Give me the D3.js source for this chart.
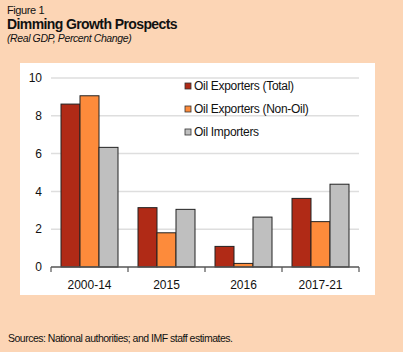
<!DOCTYPE html>
<html>
<head>
<meta charset="utf-8">
<script src="https://cdn.jsdelivr.net/npm/d3@7"></script>
<style>
  body { margin: 0; background: #fcd5b5; }
  svg { display: block; font-family: 'Liberation Sans', Arial, sans-serif; }
</style>
</head>
<body>
<svg width="403" height="352"></svg>
<script>
const categories = ['2000-14', '2015', '2016', '2017-21']
const seriesNames = ['Oil Exporters (Total)', 'Oil Exporters (Non-Oil)', 'Oil Importers']
const exportersTotal = [8.62, 3.14, 1.09, 3.63]
const exportersNonOil = [9.06, 1.81, 0.19, 2.40]
const importers = [6.33, 3.05, 2.64, 4.38]
const yTicks = [0, 2, 4, 6, 8, 10]
const colors = ['#b02a16', '#fd8b3b', '#bfbfbf']

const seriesValues = [exportersTotal, exportersNonOil, importers]
const rows = categories.map((c, i) => ({
  cat: c,
  values: seriesValues.map((s, k) => ({key: seriesNames[k], value: s[i]})),
}))

const svg = d3.select('svg')

svg.append('rect')
  .attr('width', 403).attr('height', 352)
  .attr('fill', '#fcd5b5')

// white panel
svg.append('rect')
  .attr('x', 20).attr('y', 63)
  .attr('width', 355).attr('height', 232)
  .attr('fill', '#fff')

// titles
svg.append('text').attr('x', 7).attr('y', 14)
  .attr('font-size', 11).attr('fill', '#111')
  .style('letter-spacing', '-0.4px')
  .text('Figure 1')
svg.append('text').attr('x', 7).attr('y', 29)
  .attr('font-size', 14).attr('font-weight', 'bold').attr('fill', '#111')
  .style('letter-spacing', '-0.6px')
  .text('Dimming Growth Prospects')
svg.append('text').attr('x', 7).attr('y', 42)
  .attr('font-size', 10.5).attr('font-style', 'italic').attr('fill', '#111')
  .style('letter-spacing', '-0.4px')
  .text('(Real GDP, Percent Change)')

svg.append('text').attr('x', 8).attr('y', 342)
  .attr('font-size', 10.5).attr('fill', '#111')
  .style('letter-spacing', '-0.5px')
  .text('Sources: National authorities; and IMF staff estimates.')

const margins = {left: 51, right: 44, top: 78, bottom: 85}
const width = 403 - margins.left - margins.right
const height = 352 - margins.top - margins.bottom

const g = svg.append('g')
  .attr('transform', `translate(${margins.left}, ${margins.top})`)

const x0 = d3.scaleBand().domain(categories).range([0, width]).paddingInner(0).paddingOuter(0)
const x1 = d3.scaleBand().domain(seriesNames).range([10, x0.bandwidth() - 10])
const y = d3.scaleLinear().domain([0, 10]).range([height, 0])

// gridlines
g.append('g')
  .selectAll('line')
  .data(yTicks.filter((t) => t > 0))
  .enter()
  .append('line')
  .attr('x1', 0).attr('x2', width)
  .attr('y1', (d) => y(d)).attr('y2', (d) => y(d))
  .attr('stroke', '#dedede').attr('stroke-width', 1.5)

// y labels
g.append('g')
  .selectAll('text')
  .data(yTicks)
  .enter()
  .append('text')
  .attr('x', -9).attr('y', (d) => y(d))
  .attr('dy', '0.35em')
  .attr('text-anchor', 'end')
  .attr('font-size', 12).attr('fill', '#111')
  .text((d) => d)

// bars
const groups = g.selectAll('.bar-group')
  .data(rows)
  .enter()
  .append('g')
  .attr('class', 'bar-group')
  .attr('transform', (d) => `translate(${x0(d.cat)}, 0)`)

groups.selectAll('rect')
  .data((d) => d.values)
  .enter()
  .append('rect')
  .attr('x', (d) => x1(d.key))
  .attr('y', (d) => y(d.value))
  .attr('width', x1.bandwidth())
  .attr('height', (d) => height - y(d.value))
  .attr('fill', (d, i) => colors[i])
  .attr('stroke', '#222')
  .attr('stroke-width', 1)

// x axis
const xAxis = g.append('g')
  .attr('transform', `translate(0, ${height})`)
xAxis.append('line')
  .attr('x1', 0).attr('x2', width)
  .attr('stroke', '#555').attr('stroke-width', 1.5)
xAxis.selectAll('.tick')
  .data(d3.range(categories.length + 1))
  .enter()
  .append('line')
  .attr('x1', (i) => i * x0.bandwidth()).attr('x2', (i) => i * x0.bandwidth())
  .attr('y1', 0).attr('y2', 5)
  .attr('stroke', '#555').attr('stroke-width', 1.2)
xAxis.selectAll('text')
  .data(categories)
  .enter()
  .append('text')
  .attr('x', (d) => x0(d) + x0.bandwidth() / 2)
  .attr('y', 22)
  .attr('text-anchor', 'middle')
  .attr('font-size', 12).attr('fill', '#111')
  .text((d) => d)

// legend
const legend = svg.append('g')
  .selectAll('g')
  .data(seriesNames)
  .enter()
  .append('g')
  .attr('transform', (d, i) => `translate(185, ${86 + i * 23})`)
legend.append('rect')
  .attr('x', 0).attr('y', -3)
  .attr('width', 6).attr('height', 6)
  .attr('fill', (d, i) => colors[i])
  .attr('stroke', '#333').attr('stroke-width', 0.8)
legend.append('text')
  .attr('x', 9).attr('dy', '0.35em')
  .attr('font-size', 12).attr('fill', '#111')
  .style('letter-spacing', '-0.3px')
  .text((d) => d)
</script>
</body>
</html>
